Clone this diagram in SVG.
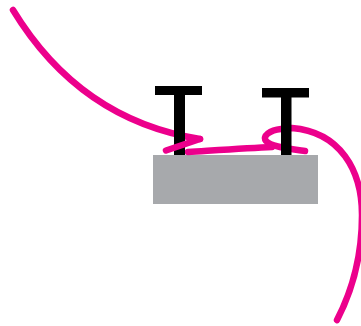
<svg xmlns="http://www.w3.org/2000/svg" width="361" height="326" viewBox="0 0 361 326">
<style>
.rope{fill:none;stroke:#ec008c;stroke-width:6.5;stroke-linecap:round;stroke-linejoin:round}
.post{fill:#000}
.base{fill:#a7a9ac}
</style>
<rect width="361" height="326" fill="#fff"/>
<g id="base"><rect class="base" x="153" y="155" width="165" height="49"/></g>
<g id="connectors-under">
<path class="rope" d="M13,10 Q80,120 200,139"/>
<path class="rope" d="M188,152 C220,150 250,148 272,147"/>
<path class="rope" d="M337,320 C350,295 362,260 362,215 C362,170 340,132 292,128 L281,129 C270,130 262,136 266,141 C271,147 290,149 305,151"/>
</g>
<g id="post-left">
<rect class="post" x="155" y="86" width="47" height="9"/>
<rect class="post" x="174" y="95" width="11" height="60"/>
</g>
<g id="post-right">
<rect class="post" x="262" y="88" width="47" height="9.5"/>
<rect class="post" x="281" y="97" width="10.5" height="58"/>
</g>
<g id="connectors-over">
<path class="rope" d="M200,139 L166,150.5"/>
</g>
</svg>
